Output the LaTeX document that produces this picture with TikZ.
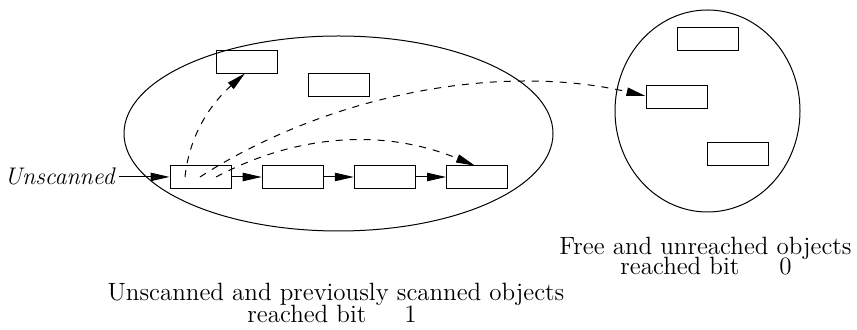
\documentclass[tikz,border=0pt]{standalone}
\usetikzlibrary{arrows.meta,shapes.geometric}
\begin{document}
\begin{tikzpicture}[x=0.5pt,y=-0.5pt,
  font=\fontsize{12.5}{14}\selectfont,
  line width=0.5pt,
  obj/.style={draw,rectangle,minimum width=30.5pt,minimum height=11.5pt,inner sep=0pt},
  region/.style={draw,ellipse,inner sep=0pt},
  arr/.style={-{Triangle[length=9.5pt,width=4.2pt]}},
  darr/.style={arr,dash pattern=on 3.5pt off 3.5pt},
  lbl/.style={anchor=base,inner sep=0pt}]
\useasboundingbox (0,0) rectangle (857,330);
% regions
\node[region,minimum width=214.5pt,minimum height=97.5pt] (live) at (338.5,133.5) {};
\node[region,minimum width=92.5pt,minimum height=101pt] (free) at (707.5,111) {};
% objects in live region
\node[obj] (a) at (246.5,61.7) {};
\node[obj] (b) at (338.7,84.7) {};
\node[obj] (c1) at (200.5,177) {};
\node[obj] (c2) at (292.7,177) {};
\node[obj] (c3) at (384.8,177) {};
\node[obj] (c4) at (477,177) {};
% objects in free region
\node[obj] (r1) at (707.5,38.8) {};
\node[obj] (r2) at (676.7,96.7) {};
\node[obj] (r3) at (738.2,154) {};
% unscanned pointer
\node[anchor=base east,inner sep=2pt,font=\fontsize{12}{14}\selectfont\itshape] (uns) at (119,185) {Unscanned};
\draw[arr] (uns.east) -- (uns.east -| c1.west);
\draw[arr] (c1) -- (c2);
\draw[arr] (c2) -- (c3);
\draw[arr] (c3) -- (c4);
% dashed references
\coordinate (s1) at (185,177);
\coordinate (s2) at (200,177);
\coordinate (s3) at (216,177);
\coordinate (e1) at (245,73.3);
\coordinate (e2) at (645.5,96);
\coordinate (e3) at (475,165.7);
\draw[darr] (s1) .. controls (190,130) and (215,100) .. (e1);
\draw[darr] (s2) .. controls (327.2,95) and (498.3,62) .. (e2);
\draw[darr] (s3) .. controls (300,132.4) and (387,129.4) .. (e3);
% captions
\node[lbl] (t1) at (336,301) {Unscanned and previously scanned objects};
\node[lbl] (t2) at (332,322.5) {reached bit\hspace{19pt}1};
\node[lbl] (t3) at (705.5,254.5) {Free and unreached objects};
\node[lbl] (t4) at (706,274.5) {reached bit\hspace{20pt}0};
\end{tikzpicture}
\end{document}
